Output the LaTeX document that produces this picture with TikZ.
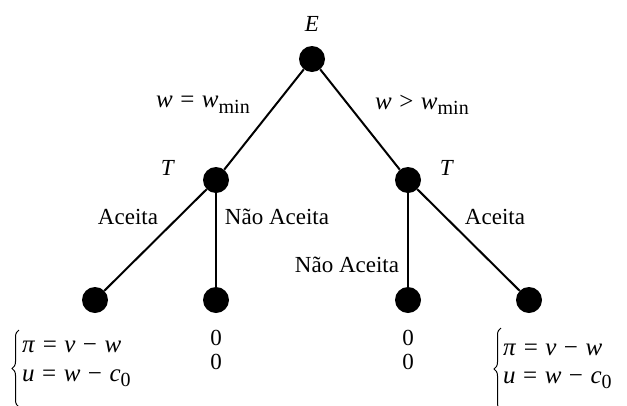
\documentclass[tikz,border=0pt]{standalone}
\usepackage{fontspec}
\setmainfont{Liberation Serif}
\usetikzlibrary{decorations.pathreplacing}
\newcommand{\lowsub}[1]{\raisebox{-0.22em}{\fontsize{20}{20}\selectfont #1}}
\newcommand{\opsp}[1]{\hspace{0.3em}#1\hspace{0.3em}}
\begin{document}
\begin{tikzpicture}[x=1pt,y=-1pt,
  dot/.style={circle,fill=black,inner sep=0pt,minimum size=26pt},
  edge/.style={line width=2pt},
  lbl/.style={font=\fontsize{23}{27}\selectfont,inner sep=0pt},
  mlbl/.style={font=\fontsize{25}{29}\selectfont,inner sep=0pt},
  bracepath/.style={decorate,decoration={brace,amplitude=7pt},line width=1pt}]
\useasboundingbox (0,0) rectangle (627,405);
% nodes
\node[dot] (E) at (312,59) {};
\node[dot] (TL) at (216,180) {};
\node[dot] (TR) at (408,180) {};
\node[dot] (L1) at (95,300) {};
\node[dot] (L2) at (216,300) {};
\node[dot] (R1) at (408,300) {};
\node[dot] (R2) at (529,300) {};
% edges
\draw[edge] (E) -- (TL);
\draw[edge] (E) -- (TR);
\draw[edge] (TL) -- (L1);
\draw[edge] (TL) -- (L2);
\draw[edge] (TR) -- (R1);
\draw[edge] (TR) -- (R2);
% player labels
\node[lbl] (lE) at (312,24) {\textit{E}};
\node[lbl] (lTL) at (168,168) {\textit{T}};
\node[lbl] (lTR) at (447,168) {\textit{T}};
% edge labels
\node[mlbl] (eL) at (203,105) {\textit{w}\opsp{=}\textit{w}\lowsub{min}};
\node[mlbl] (eR) at (422,105) {\textit{w}\opsp{>}\textit{w}\lowsub{min}};
\node[lbl] (a1) at (128,217) {Aceita};
\node[lbl] (a2) at (277,217) {Não Aceita};
\node[lbl] (a3) at (347,265) {Não Aceita};
\node[lbl] (a4) at (495,217) {Aceita};
% payoffs
\node[mlbl,anchor=west] (p1a) at (22,347) {\textit{π}\opsp{=}\textit{v}\opsp{−}\textit{w}};
\node[mlbl,anchor=west] (p1b) at (22,378) {\textit{u}\opsp{=}\textit{w}\opsp{−}\textit{c}\lowsub{0}};
\draw[bracepath] (19,407) -- (19,330);
\node[lbl] (z1) at (216,338) {0};
\node[lbl] (z2) at (216,362) {0};
\node[lbl] (z3) at (408,338) {0};
\node[lbl] (z4) at (408,362) {0};
\node[mlbl,anchor=west] (p2a) at (503,350) {\textit{π}\opsp{=}\textit{v}\opsp{−}\textit{w}};
\node[mlbl,anchor=west] (p2b) at (503,380) {\textit{u}\opsp{=}\textit{w}\opsp{−}\textit{c}\lowsub{0}};
\draw[bracepath] (501,410) -- (501,328);
\end{tikzpicture}
\end{document}
